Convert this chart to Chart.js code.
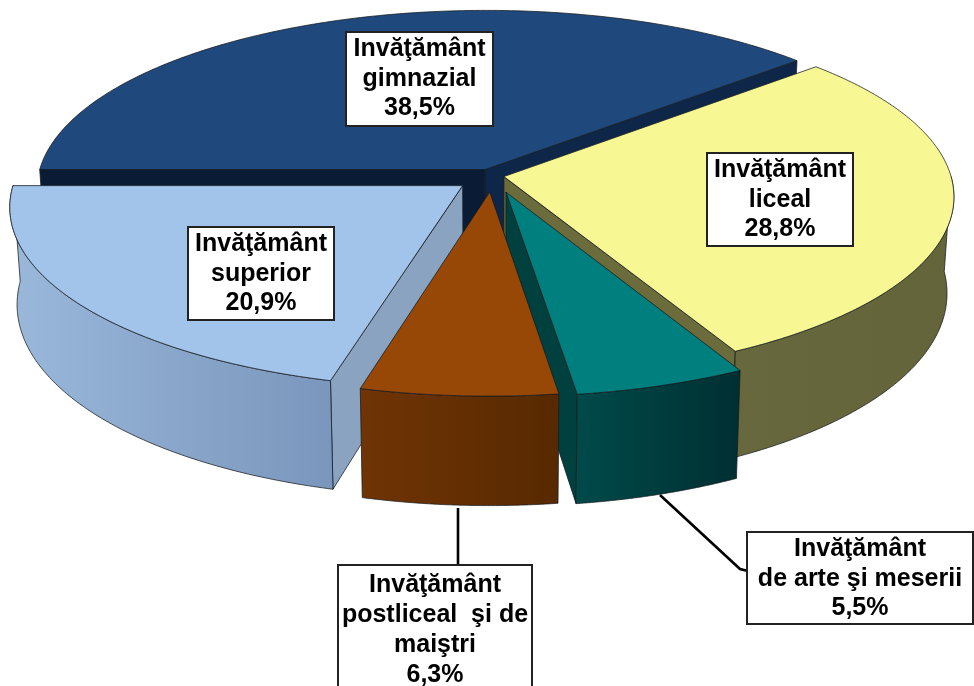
<!DOCTYPE html>
<html><head><meta charset="utf-8">
<style>html,body{margin:0;padding:0;background:#fff;overflow:hidden}canvas{display:block}</style>
<script src="https://cdn.jsdelivr.net/npm/chart.js@4/dist/chart.umd.min.js"></script>
</head><body><canvas id="c" width="974" height="686"></canvas>
<script>
const categories=["Invăţământ gimnazial","Invăţământ liceal","Invăţământ de arte şi meserii","Invăţământ postliceal şi de maiştri","Invăţământ superior"];
const shares=[38.5,28.8,5.5,6.3,20.9];
const topColors=["#1F497D","#F7F793","#007F7F","#974806","#A3C4EA"];
const explode=[0.045,0.018,0.065,0.083,0.088];
const nudgeX=[-3,1,2,-3,-1];
const nudgeY=[1,0,5,1,0];
const wallLeft=["#0B1E38","#68683E","#004A4A","#703405","#99B8DA"];
const wallRight=["#0B1E38","#64643A","#002F32","#572900","#7A96BC"];
const startWall=["#0A1C35","#6B6B3C","#004140","#5A2A00","#8AA3C0"];
const endWall=["#0E2648","#6B6B3C","#004140","#5A2A00","#8AA3C0"];
const lines=[["Invăţământ","gimnazial","38,5%"],["Invăţământ","liceal","28,8%"],["Invăţământ","de arte şi meserii","5,5%"],["Invăţământ","postliceal  şi de","maiştri","6,3%"],["Invăţământ","superior","20,9%"]];
const boxes=[[346,32,147,94],[707,153,146,93],[747,532,226,92],[338,565,194,125],[188,227,146,93]];
const leaders=[null,null,[[660,495],[740,569],[748,571]],[[458,508],[458,565]],null];
const view={cx:495,cy:176,rx:447,ry:178,persp:0.11,h0:95,hk:0.14,shrink:0.015};

function project(nx,ny,z){
  const s=1/(1-view.persp*ny);
  return [view.cx+view.rx*nx*s*(1-z*view.shrink), view.cy+view.ry*ny*s+z*view.h0*(1+view.hk*ny)];
}
function arcPts(o,a0,a1,z,n){
  const out=[];
  for(let i=0;i<=n;i++){const a=a0+(a1-a0)*i/n;out.push(project(o[0]+Math.cos(a),o[1]+Math.sin(a),z));}
  return out;
}
function trace(ctx,pts,close){ctx.beginPath();pts.forEach((p,i)=>i?ctx.lineTo(p[0],p[1]):ctx.moveTo(p[0],p[1]));if(close)ctx.closePath();}
function fillStroke(ctx,pts,fill,stroke,w){trace(ctx,pts,true);ctx.fillStyle=fill;ctx.fill();ctx.lineWidth=w||1;ctx.strokeStyle=stroke;ctx.stroke();}
function drawSlice(ctx,el,i){
  const a0=el.startAngle,a1=el.endAngle,mid=(a0+a1)/2,d=explode[i];
  const o=[Math.cos(mid)*d+nudgeX[i]/view.rx,Math.sin(mid)*d+nudgeY[i]/view.ry];
  const edge="rgba(20,25,30,.75)";
  const c0=project(o[0],o[1],0),c1=project(o[0],o[1],1);
  const corner=(a,z)=>project(o[0]+Math.cos(a),o[1]+Math.sin(a),z);
  if(Math.cos(a0)<0) fillStroke(ctx,[c0,corner(a0,0),corner(a0,1),c1],startWall[i],edge);
  if(Math.cos(a1)>0) fillStroke(ctx,[c0,corner(a1,0),corner(a1,1),c1],endWall[i],edge);
  // rim: only the angles on the viewer's side of the pie
  const turn=2*Math.PI;
  let f0=null,f1=null;
  for(const k of [0,1]){
    const lo=Math.max(a0,k*turn),hi=Math.min(a1,k*turn+Math.PI);
    if(hi>lo){f0=lo;f1=hi;}
  }
  if(f0!==null){
    const top=arcPts(o,f0,f1,0,120),bot=arcPts(o,f0,f1,1,120);
    const xs=top.concat(bot).map(p=>p[0]);
    const g=ctx.createLinearGradient(Math.min(...xs),0,Math.max(...xs),0);
    g.addColorStop(0,wallLeft[i]);g.addColorStop(1,wallRight[i]);
    fillStroke(ctx,top.concat(bot.slice().reverse()),g,edge);
  }
  fillStroke(ctx,[c0].concat(arcPts(o,a0,a1,0,160)),el.options.backgroundColor,edge);
}
const pie3d={id:"pie3d",
  beforeDatasetDraw(chart,args){
    const ctx=chart.ctx,arcs=chart.getDatasetMeta(args.index).data;
    ctx.save();ctx.lineJoin="round";
    [0,1,2,4,3].forEach(i=>drawSlice(ctx,arcs[i],i));
    ctx.restore();
    return false;
  },
  afterDraw(chart){
    const ctx=chart.ctx;ctx.save();
    leaders.forEach(l=>{if(!l)return;trace(ctx,l,false);ctx.lineWidth=2.6;ctx.strokeStyle="#000";ctx.stroke();});
    ctx.font='bold 25px "Liberation Sans",Arial,sans-serif';ctx.textAlign="center";ctx.textBaseline="middle";
    boxes.forEach((b,i)=>{
      ctx.fillStyle="#fff";ctx.fillRect(b[0],b[1],b[2],b[3]);ctx.lineWidth=2;ctx.strokeStyle="#222";ctx.strokeRect(b[0],b[1],b[2],b[3]);
      ctx.fillStyle="#000";
      const lh=i==3?30:29.5;const y0=b[1]+(i==3?20:17.5);
      lines[i].forEach((t,k)=>ctx.fillText(t,b[0]+b[2]/2,y0+k*lh));
    });
    ctx.restore();
  }
};
new Chart(document.getElementById("c"),{type:"pie",
  data:{labels:categories,datasets:[{data:shares,backgroundColor:topColors,borderWidth:0}]},
  options:{responsive:false,animation:false,rotation:270,events:[],
    layout:{padding:0},plugins:{legend:{display:false},title:{display:false},tooltip:{enabled:false}}},
  plugins:[pie3d]});
</script></body></html>
